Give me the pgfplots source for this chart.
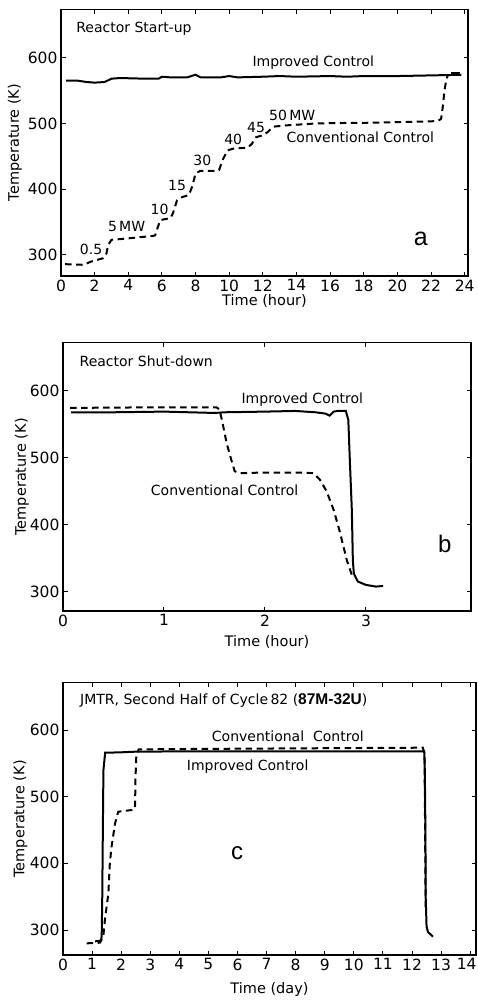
\documentclass[border=0pt]{standalone}
\usepackage{pgfplots}
\pgfplotsset{compat=1.18}
\usepackage{fontspec}
\setmainfont{DejaVu Sans}
\newfontfamily\letterfont{Liberation Sans}
\pgfplotsset{
  panel/.style={
    scale only axis,
    clip=false,
    tick align=inside,
    major tick length=4.5pt,
    axis line style={line width=1.4pt},
    every tick/.style={black, line width=1pt},
    tick label style={font=\fontsize{15.5}{17}\selectfont},
    label style={font=\fontsize{14.5}{16}\selectfont},
    /pgf/number format/assume math mode=true,
    ytick={300,400,500,600},
  },
  impr/.style={black, line width=2pt, no marks},
  conv/.style={black, line width=2pt, dash pattern=on 6.5pt off 4.5pt, no marks},
}
\begin{document}
\begin{tikzpicture}[font=\fontsize{14}{16}\selectfont]
\path[use as bounding box] (0,0) rectangle (477pt,-1000pt);
% ---------------- panel a
\begin{axis}[panel, at={(61pt,-276pt)}, anchor=south west, width=407pt, height=266.7pt,
  xmin=0, xmax=24.2, ymin=268, ymax=673.5,
  xtick={0,2,...,24},
  xlabel={Time (hour)}, ylabel={Temperature (K)},
  xlabel style={at={(axis description cs:0.5,-0.094)}, anchor=center},
  ylabel style={at={(axis description cs:-0.113,0.5)}, anchor=center},
]
\addplot[impr] coordinates {(0.3,565) (1,565) (1.5,563) (2,562) (2.6,563) (3,568) (3.5,569) (5,568) (5.8,568) (6,571) (6.5,570) (7.5,570) (8,574) (8.3,570) (9.5,570) (10,572) (10.5,570) (12,571) (13,572) (14,571) (16,572) (17,571) (18,572) (20,572) (22,573) (23,573.5) (23.8,574)};
\addplot[black, line width=3.2pt, no marks] coordinates {(23.2,575) (23.75,575)};
\addplot[conv] coordinates {(0.24,286) (1.33,285) (1.8,290) (2.5,295) (2.7,302) (2.8,315) (3.0,323) (3.9,325) (4.7,327) (5.5,329) (5.6,330) (5.7,338) (5.9,353) (6.5,356) (6.65,363) (6.9,383) (7.2,388) (7.6,391) (7.8,404) (8.0,424) (8.3,428) (9.1,428) (9.4,429) (9.6,444) (9.9,459) (10.3,462) (11.1,463) (11.35,469) (11.6,479) (12.0,482) (12.3,487) (12.6,495) (13.4,497) (15.2,500) (16.2,500.5) (18.2,501) (20.2,502) (22.4,503.5) (22.6,507) (22.7,525) (22.8,550) (22.9,565) (23.0,574)};
\node[anchor=west] at (axis cs:0.7,644) {Reactor Start-up};
\node at (axis cs:15.0,593) {Improved Control};
\node at (axis cs:17.8,479) {Conventional Control};
\node at (axis cs:13.75,512) {50\,MW};
\node at (axis cs:11.6,494) {45};
\node at (axis cs:10.24,475) {40};
\node at (axis cs:8.4,443) {30};
\node at (axis cs:6.9,405) {15};
\node at (axis cs:5.86,370) {10};
\node at (axis cs:3.9,343) {5\,MW};
\node at (axis cs:1.79,308.6) {0.5};
\node[font=\letterfont\fontsize{25}{28}\selectfont] at (axis cs:21.4,324) {a};
\end{axis}
% ---------------- panel b
\begin{axis}[panel, at={(63pt,-611pt)}, anchor=south west, width=408pt, height=268.3pt,
  xmin=0, xmax=4.04, ymin=271, ymax=672,
  xtick={0,1,2,3},
  xlabel={Time (hour)}, ylabel={Temperature (K)},
  xlabel style={at={(axis description cs:0.5,-0.116)}, anchor=center},
  ylabel style={at={(axis description cs:-0.101,0.5)}, anchor=center},
]
\addplot[impr] coordinates {(0.08,568) (0.5,568) (1.0,569) (1.5,567) (1.6,568) (2.0,569) (2.3,570) (2.5,568) (2.6,566) (2.64,563) (2.68,569) (2.72,570) (2.8,570) (2.825,557) (2.84,497) (2.86,422) (2.87,347) (2.88,327) (2.92,315) (3.0,310) (3.1,307.5) (3.17,308.5)};
\addplot[conv] coordinates {(0.07,574.5) (0.5,575) (1.0,575.5) (1.52,575.5) (1.55,572) (1.58,552) (1.62,522) (1.67,495) (1.70,480) (1.75,477) (2.0,478) (2.35,478) (2.48,477) (2.545,467) (2.61,450) (2.68,422) (2.74,390) (2.81,347) (2.86,325)};
\node[anchor=west] at (axis cs:0.13,644) {Reactor Shut-down};
\node at (axis cs:2.37,587) {Improved Control};
\node at (axis cs:1.60,452) {Conventional Control};
\node[font=\letterfont\fontsize{24}{26}\selectfont] at (axis cs:3.78,372) {b};
\end{axis}
% ---------------- panel c
\begin{axis}[panel, at={(63pt,-955pt)}, anchor=south west, width=413pt, height=272.3pt,
  xmin=0, xmax=14.2, ymin=262.5, ymax=671,
  xtick={0,1,...,14},
  xticklabels={0,1,2,3,4,5,6,7,8,9,10,11,12,13,{\kern-7pt 14}},
  xlabel={Time (day)}, ylabel={Temperature (K)},
  xlabel style={at={(axis description cs:0.5,-0.125)}, anchor=center},
  ylabel style={at={(axis description cs:-0.103,0.5)}, anchor=center},
]
\addplot[impr] coordinates {(1.1,283) (1.3,284) (1.33,290) (1.35,350) (1.37,450) (1.39,540) (1.45,566) (1.96,566.5) (2.47,567.5) (4,568) (6,568) (8,568) (10,568) (12,568) (12.42,568) (12.44,540) (12.46,450) (12.47,350) (12.5,305) (12.55,297) (12.72,290)};
\addplot[conv] coordinates {(0.81,280) (1.27,281) (1.385,290) (1.44,315) (1.56,355) (1.61,400) (1.67,425) (1.79,460) (1.90,477.5) (2.36,480) (2.47,482) (2.48,490) (2.49,525) (2.52,560) (2.6,571) (4,571.5) (6,572) (8,572.5) (10,573) (12.37,573.5) (12.43,565) (12.45,450) (12.47,330)};
\node[anchor=west] at (axis cs:0.47,643.5) {JMTR, Second Half of Cycle\,82 ({\letterfont\bfseries\fontsize{15.5}{17}\selectfont 87M-32U})};
\node at (axis cs:7.73,591) {Conventional\ \ Control};
\node at (axis cs:6.35,545) {Improved\ Control};
\node[font=\letterfont\fontsize{24}{26}\selectfont] at (axis cs:5.99,416) {c};
\end{axis}
\end{tikzpicture}
\end{document}
